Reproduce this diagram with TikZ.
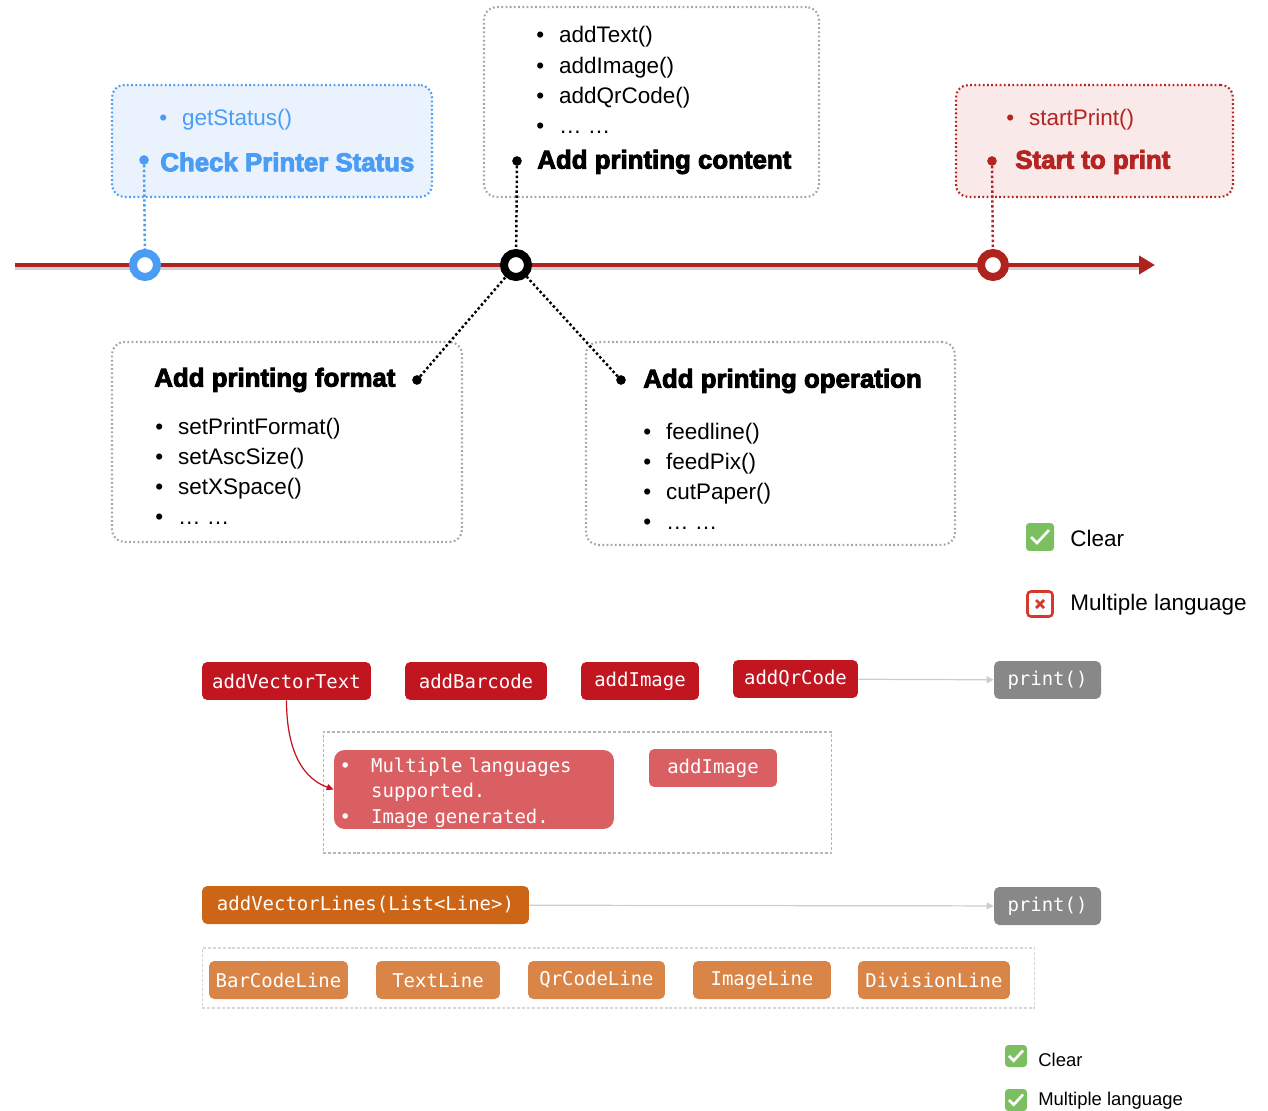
\documentclass[tikz,border=0pt]{standalone}
\usepackage{fontspec}
\setmainfont{Liberation Sans}
\newfontfamily\codefont{DejaVu Sans Mono}
\newfontfamily\heavyfont[FakeBold=3.5]{Liberation Sans Bold}
\usepackage{tikz}
\usetikzlibrary{arrows.meta}
\usetikzlibrary{positioning}
\usetikzlibrary{calc}

\definecolor{lineRed}{RGB}{176,34,30}
\definecolor{statusBlue}{RGB}{74,156,245}
\definecolor{statusFill}{RGB}{234,243,253}
\definecolor{printRed}{RGB}{180,36,34}
\definecolor{printFill}{RGB}{250,233,233}
\definecolor{frameGray}{RGB}{165,165,165}
\definecolor{codeRed}{RGB}{193,21,32}
\definecolor{altPink}{RGB}{218,95,99}
\definecolor{printGray}{RGB}{136,136,136}
\definecolor{lineOrange}{RGB}{205,101,22}
\definecolor{partOrange}{RGB}{217,133,72}
\definecolor{flowGray}{RGB}{205,205,205}
\definecolor{okGreen}{RGB}{124,191,97}
\definecolor{xRed}{RGB}{214,57,43}

\tikzset{
dot/.style = {circle, fill, minimum size=#1,
              inner sep=0pt, outer sep=0pt},
dot/.default = 5.5pt, % diameter of the title dots
milestone/.style = {circle, draw=#1, fill=white, line width=0.16cm,
              minimum size=0.48cm, inner sep=0pt},
dotbox/.style = {draw=#1, rounded corners=7pt, line width=1.2pt,
              dash pattern=on 1pt off 1.4pt, inner sep=0pt},
tieline/.style = {draw=#1, line width=1.4pt, dash pattern=on 1.4pt off 1.4pt},
heading/.style = {anchor=west, inner sep=0pt,
              font=\heavyfont\fontsize{14.7}{17}\selectfont},
itemlist/.style = {anchor=west, inner sep=0pt, align=left,
              font=\fontsize{12.8}{17.2}\selectfont},
codebox/.style = {fill=#1, rounded corners=3pt, text=white, inner sep=0pt,
              font=\codefont\fontsize{10.8}{14.5}\selectfont, minimum height=0.76cm},
flowarrow/.style = {draw=flowGray, line width=0.7pt, -{Triangle[length=4pt, width=4pt]}},
legend/.style = {anchor=west, inner sep=0pt, font=\fontsize{#1}{#1}\selectfont},
}
\newcommand{\bitem}{\textbullet\hspace{8.5pt}}
\newcommand{\tipdot}[3]{\node[dot, fill=#3] (#1) at (#2) {};}
\newcommand{\codenode}[5]{\node[codebox=#1, minimum width=#4] (#2) at (#3) {#5};}
\newcommand{\okmark}[3]{\node[fill=okGreen, rounded corners=2pt, minimum size=#3, inner sep=0pt] (#1) at (#2) {};
  \draw[white, line width=1.5pt, shift={(#1.center)}, scale=#3/0.56cm] (-9,0) -- (-3,6) -- (9,-7);}

\begin{document}
\begin{tikzpicture}[x=0.02cm, y=-0.02cm]
        \useasboundingbox (0,0) rectangle (1268,1111);
        % boxes round the timeline
        \node[dotbox=statusBlue, fill=statusFill, minimum width=6.4cm, minimum height=2.24cm] (statusbox) at (272,141) {};
        \node[dotbox=frameGray, minimum width=6.7cm, minimum height=3.8cm] (contentbox) at (651.5,102) {};
        \node[dotbox=printRed, fill=printFill, minimum width=5.54cm, minimum height=2.24cm] (printbox) at (1094.5,141) {};
        \node[dotbox=frameGray, minimum width=7cm, minimum height=4cm] (formatbox) at (287,442) {};
        \node[dotbox=frameGray, minimum width=7.38cm, minimum height=4.06cm] (operbox) at (770.5,443.5) {};

        \node[itemlist, text=statusBlue] (getstatus) at (159,120) {\bitem getStatus()};
        \node[heading, text=statusBlue] (checkstatus) at (160,162) {Check Printer Status};
        \node[itemlist] (contentlist) at (536,80) {\bitem addText()\\ \bitem addImage()\\ \bitem addQrCode()\\ \bitem … …};
        \node[heading] (addcontent) at (537,162) {Add printing content};
        \node[itemlist, text=printRed] (startprint) at (1006,120) {\bitem startPrint()};
        \node[heading, text=printRed] (starttoprint) at (1015,162) {Start to print};
        \node[heading] (addformat) at (154,380) {Add printing format};
        \node[itemlist] (formatlist) at (155,471.5) {\bitem setPrintFormat()\\ \bitem setAscSize()\\ \bitem setXSpace()\\ \bitem … …};
        \node[heading] (addoper) at (643,381) {Add printing operation};
        \node[itemlist] (operlist) at (643,476.5) {\bitem feedline()\\ \bitem feedPix()\\ \bitem cutPaper()\\ \bitem … …};

        \tipdot{dstatus}{144,160}{statusBlue};
        \tipdot{dcontent}{517,161}{black};
        \tipdot{dprint}{992,161}{printRed};
        \tipdot{dformat}{417,380}{black};
        \tipdot{doper}{621,380}{black};

        % timeline
        \coordinate (tstart) at (15,265);
        \coordinate (tend) at (1155,265);
        \draw[black!18, line width=2.3pt] ([yshift=-0.05cm]tstart) -- ([yshift=-0.05cm,xshift=-0.32cm]tend);
        \draw[lineRed, line width=2.3pt, -{Triangle[length=0.32cm, width=0.36cm]}] (tstart) -- (tend);
        \node[milestone=statusBlue] (mstatus) at (145,265) {};
        \node[milestone=black] (mcontent) at (516,265) {};
        \node[milestone=lineRed] (mprint) at (993,265) {};

        \draw[tieline=statusBlue] (dstatus) -- (mstatus);
        \draw[tieline=black] (dcontent) -- (mcontent);
        \draw[tieline=printRed] (dprint) -- (mprint);
        \draw[tieline=black] (dformat) -- (mcontent);
        \draw[tieline=black] (doper) -- (mcontent);

        % first legend
        \okmark{clearA}{1040,537}{0.56cm}
        \node[legend=12.8] (clearAtext) at (1070,538) {Clear};
        \node[draw=xRed, line width=1.5pt, fill=white, rounded corners=2pt, minimum size=0.5cm, inner sep=0pt] (multiA) at (1040,604) {};
        \draw[xRed, line width=1.6pt, shift={(multiA.center)}] (-4,-4) -- (4,4) (-4,4) -- (4,-4);
        \node[legend=12.8] (multiAtext) at (1070,605) {Multiple language};

        % vector text row
        \node[draw=frameGray!80, line width=0.6pt, dash pattern=on 1.7pt off 1.1pt, minimum width=10.18cm, minimum height=2.42cm] (altframe) at (577.5,792.5) {};
        \codenode{codeRed}{vtext}{286.5,681}{3.38cm}{addVectorText}
        \codenode{codeRed}{barcode}{476,681}{2.84cm}{addBarcode}
        \codenode{codeRed}{image}{640,681}{2.36cm}{addImage}
        \codenode{codeRed}{qrcode}{795.5,679}{2.5cm}{addQrCode}
        \codenode{printGray}{printA}{1047.5,680}{2.14cm}{print()}
        \node[codebox=altPink, rounded corners=6pt, minimum width=5.6cm, minimum height=1.58cm, align=left, text width=5.38cm, inner xsep=0.11cm] (multilang) at (474,789.5)
            {\rule{0pt}{11.6pt}\makebox[18pt][l]{•}Multiple languages\\ \hspace*{18pt}supported.\\ \makebox[18pt][l]{•}Image generated.};
        \codenode{altPink}{altimage}{713,768}{2.56cm}{addImage}
        \draw[flowarrow] (qrcode) -- (printA);
        \draw[codeRed, line width=0.7pt, -{Triangle[length=4pt, width=3.5pt]}] (vtext.south) to[out=-90, in=160] (multilang.west);

        % vector lines row
        \node[draw=flowGray!80, line width=0.6pt, dash pattern=on 1.7pt off 1.1pt, minimum width=16.66cm, minimum height=1.2cm] (lineframe) at (618.5,978) {};
        \codenode{lineOrange}{vlines}{365.5,905}{6.54cm}{addVectorLines(List<Line>)}
        \codenode{printGray}{printB}{1047.5,906}{2.14cm}{print()}
        \draw[flowarrow] (vlines) -- (printB);
        \codenode{partOrange}{barline}{278.5,980}{2.78cm}{BarCodeLine}
        \codenode{partOrange}{textline}{438,980}{2.48cm}{TextLine}
        \codenode{partOrange}{qrline}{596.5,980}{2.74cm}{QrCodeLine}
        \codenode{partOrange}{imgline}{762,980}{2.76cm}{ImageLine}
        \codenode{partOrange}{divline}{934,980}{3.04cm}{DivisionLine}

        % second legend
        \okmark{clearB}{1016,1056}{0.44cm}
        \node[legend=10.5] (clearBtext) at (1038,1060) {Clear};
        \okmark{multiB}{1016,1100}{0.44cm}
        \node[legend=10.5] (multiBtext) at (1038,1101) {Multiple language};
\end{tikzpicture}
\end{document}
